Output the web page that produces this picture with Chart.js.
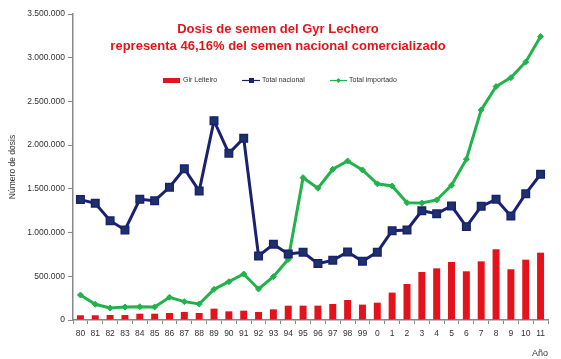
<!DOCTYPE html>
<html>
<head>
<meta charset="utf-8">
<script src="https://cdn.jsdelivr.net/npm/chart.js@4.4.1/dist/chart.umd.min.js"></script>
<style>
  html, body { margin: 0; padding: 0; background: #fff; }
  #wrap { width: 561px; height: 359px; position: relative; }
</style>
</head>
<body>
<div id="wrap"><canvas id="chart"></canvas></div>
<script>
// Datos
const years = ['80','81','82','83','84','85','86','87','88','89','90','91','92','93','94','95','96','97','98','99',
               '0','1','2','3','4','5','6','7','8','9','10','11'];
const girLeiteiro = [54000, 54000, 57000, 57000, 72000, 72000, 80000, 92000, 80000, 130000, 99000, 107000, 92000, 122000,
                     164000, 164000, 164000, 183000, 229000, 176000, 198000, 313000, 412000, 549000, 591000, 664000,
                     557000, 671000, 809000, 580000, 690000, 770000];
const totalNacional = [1377000, 1335000, 1136000, 1030000, 1380000, 1365000, 1518000, 1730000, 1476000, 2280000, 1907000,
                       2079000, 732000, 866000, 755000, 774000, 645000, 683000, 778000, 673000, 776000, 1022000, 1030000,
                       1250000, 1216000, 1304000, 1068000, 1300000, 1380000, 1190000, 1445000, 1667000];
const totalImportado = [286000, 180000, 137000, 149000, 152000, 149000, 260000, 210000, 183000, 351000, 438000, 526000,
                        355000, 496000, 694000, 1628000, 1507000, 1724000, 1819000, 1716000, 1558000, 1533000, 1342000,
                        1338000, 1373000, 1541000, 1839000, 2403000, 2670000, 2772000, 2952000, 3242000];
const yMax = 3500000;
const yStep = 500000;
const titleLines = ['Dosis de semen del Gyr Lechero', 'representa 46,16% del semen nacional comercializado'];

const RED = '#e5121b';
const NAVY = '#1a2171';
const GREEN = '#22b24c';

// separador de miles con punto
function fmt(v) {
    return String(v).replace(/\B(?=(\d{3})+(?!\d))/g, '.');
}

// titulo y leyenda dibujados sobre el area del grafico
const overlay = {
    id: 'overlay',
    afterDraw(chart) {
        const ctx = chart.ctx;
        ctx.save();
        ctx.fillStyle = '#e0161e';
        ctx.font = 'bold 13px "Liberation Sans", Arial, sans-serif';
        ctx.textAlign = 'center';
        ctx.textBaseline = 'middle';
        ctx.fillText(titleLines[0], 278, 29);
        ctx.fillText(titleLines[1], 278, 46);

        ctx.font = '7px "Liberation Sans", Arial, sans-serif';
        ctx.textAlign = 'left';
        const y = 80.5;
        // Gir Leiteiro
        ctx.fillStyle = RED;
        ctx.fillRect(163, y - 2.5, 17, 5);
        ctx.fillStyle = '#333';
        ctx.fillText('Gir Leiteiro', 183, y);
        // Total nacional
        ctx.strokeStyle = NAVY;
        ctx.lineWidth = 1.2;
        ctx.beginPath(); ctx.moveTo(242, y); ctx.lineTo(260, y); ctx.stroke();
        ctx.fillStyle = NAVY;
        ctx.fillRect(249, y - 2.5, 5, 5);
        ctx.fillStyle = '#333';
        ctx.fillText('Total nacional', 262, y);
        // Total importado
        ctx.strokeStyle = GREEN;
        ctx.beginPath(); ctx.moveTo(330, y); ctx.lineTo(347, y); ctx.stroke();
        ctx.fillStyle = GREEN;
        ctx.beginPath();
        ctx.moveTo(338.5, y - 2.5); ctx.lineTo(341, y); ctx.lineTo(338.5, y + 2.5); ctx.lineTo(336, y);
        ctx.closePath(); ctx.fill();
        ctx.fillStyle = '#333';
        ctx.fillText('Total importado', 349, y);
        ctx.restore();
    }
};

const ctx = document.getElementById('chart').getContext('2d');
new Chart(ctx, {
    data: {
        labels: years,
        datasets: [
            {
                type: 'line',
                label: 'Total nacional',
                data: totalNacional,
                borderColor: NAVY,
                borderWidth: 3,
                pointStyle: 'rect',
                pointRadius: 5.3,
                pointBackgroundColor: '#1d3268',
                pointBorderColor: NAVY,
                pointBorderWidth: 1.5,
                tension: 0,
                order: 1
            },
            {
                type: 'line',
                label: 'Total importado',
                data: totalImportado,
                borderColor: GREEN,
                borderWidth: 3,
                pointStyle: 'rectRot',
                pointRadius: 3,
                pointBackgroundColor: GREEN,
                pointBorderColor: GREEN,
                pointBorderWidth: 1,
                tension: 0,
                order: 2
            },
            {
                type: 'bar',
                label: 'Gir Leiteiro',
                data: girLeiteiro,
                backgroundColor: RED,
                barPercentage: 0.47,
                categoryPercentage: 1,
                order: 3
            }
        ]
    },
    options: {
        responsive: true,
        maintainAspectRatio: false,
        animation: false,
        layout: { padding: { top: 14, right: 13, left: 0, bottom: 0 } },
        plugins: {
            legend: { display: false },
            tooltip: { enabled: false }
        },
        scales: {
            x: {
                offset: true,
                grid: { offset: true, drawOnChartArea: false, tickLength: 4, color: '#888', lineWidth: 1 },
                border: { color: '#888', width: 1.5 },
                ticks: {
                    autoSkip: false, maxRotation: 0, padding: 5, color: '#333',
                    font: { family: '"Liberation Sans", Arial, sans-serif', size: 8.5 }
                },
                title: {
                    display: true, text: 'Año', align: 'end', color: '#333', padding: { top: 4, bottom: 0 },
                    font: { family: '"Liberation Sans", Arial, sans-serif', size: 9 }
                },
                afterFit(scale) { scale.height = 39; }
            },
            y: {
                min: 0,
                max: yMax,
                grid: { drawOnChartArea: false, tickLength: 5, color: '#888', lineWidth: 1 },
                border: { color: '#888', width: 1.5 },
                ticks: {
                    stepSize: yStep, padding: 3, color: '#333',
                    font: { family: '"Liberation Sans", Arial, sans-serif', size: 8.5 },
                    callback: v => fmt(v)
                },
                title: {
                    display: true, text: 'Número de dosis', color: '#333', padding: { top: 8, bottom: 0 },
                    font: { family: '"Liberation Sans", Arial, sans-serif', size: 8.5 }
                },
                afterFit(scale) { scale.width = 73; }
            }
        }
    },
    plugins: [overlay]
});
</script>
</body>
</html>
